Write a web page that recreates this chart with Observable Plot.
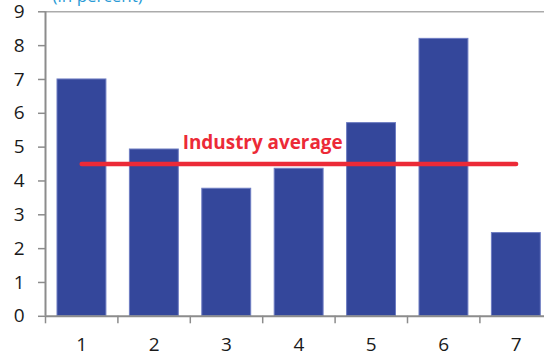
<!DOCTYPE html>
<html>
<head>
<meta charset="utf-8">
<script src="https://cdn.jsdelivr.net/npm/d3@7"></script>
<script src="https://cdn.jsdelivr.net/npm/@observablehq/plot@0.6"></script>
<style>
  html, body { margin: 0; padding: 0; background: #fff; overflow: hidden; }
  #chart { width: 544px; height: 362px; }
</style>
</head>
<body>
<div id="chart"></div>
<script>
const categories = [1, 2, 3, 4, 5, 6, 7];
const values = [7.0, 4.93, 3.77, 4.36, 5.71, 8.2, 2.46];
const industryAverage = 4.5;
const averageLabel = "Industry average";
const unitLabel = "(in percent)";
const yTicks = [0, 1, 2, 3, 4, 5, 6, 7, 8, 9];
const xBounds = [0.5, 1.5, 2.5, 3.5, 4.5, 5.5, 6.5, 7.5];

const bars = categories.map((c, i) => ({cat: c, value: values[i]}));
const avgLine = categories.map(c => ({cat: c, value: industryAverage}));

const gray = "#8c8c8c";
const font = "'Open Sans', 'Noto Sans', sans-serif";

const chart = Plot.plot({
  width: 544,
  height: 362,
  marginLeft: 45,
  marginTop: 11.3,
  marginBottom: 46.2,
  marginRight: 0,
  style: {fontFamily: font, background: "#fff", overflow: "hidden"},
  x: {domain: [0.5, 7.5], range: [45, 551.8]},
  y: {domain: [0, 9]},
  marks: [
    Plot.rectY(bars, {
      x1: d => d.cat - 0.5, x2: d => d.cat + 0.5, y: "value",
      insetLeft: 12, insetRight: 11.5,
      fill: "#34479b", stroke: "#6d7cc2", strokeWidth: 1
    }),
    Plot.ruleY([9], {stroke: "#ababab", strokeWidth: 1.5}),
    Plot.ruleX([0.5], {stroke: gray, strokeWidth: 2}),
    Plot.ruleY([0], {stroke: gray, strokeWidth: 2}),
    Plot.axisY({ticks: yTicks, tickSize: 7, tickPadding: 14, fontSize: 19,
      stroke: gray, strokeWidth: 1.5, color: "#1a1a1a", label: null}),
    Plot.axisX({ticks: xBounds, tickSize: 7.5, tickFormat: () => "",
      stroke: gray, strokeWidth: 1.5, label: null}),
    Plot.axisX({ticks: categories, tickSize: 0, tickPadding: 21, fontSize: 19,
      tickFormat: d => String(d), color: "#1a1a1a", label: null}),
    Plot.line(avgLine, {x: "cat", y: "value", stroke: "#ec2a37", strokeWidth: 4.5, strokeLinecap: "round"}),
    Plot.text([averageLabel], {
      x: 3.5, y: industryAverage, dy: -21.5, text: d => d,
      fill: "#ec2a37", fontSize: 20, fontWeight: "bold", textAnchor: "middle"
    }),
    Plot.text([unitLabel], {
      frameAnchor: "top-left", dx: 7, dy: -15.5, text: d => d,
      fill: "#2a9bd6", fontSize: 17, textAnchor: "start", lineAnchor: "middle"
    })
  ]
});

document.getElementById("chart").appendChild(chart);

// fit the average label to the reference width
d3.select(chart).selectAll("text").filter(function() { return this.textContent === averageLabel; })
  .attr("textLength", 160).attr("lengthAdjust", "spacingAndGlyphs");
</script>
</body>
</html>
